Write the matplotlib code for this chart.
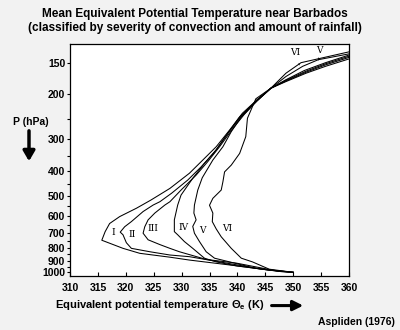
import numpy as np
import matplotlib
matplotlib.use("Agg")
import matplotlib.pyplot as plt
from matplotlib.ticker import FixedLocator, NullFormatter

plt.rcParams['font.family'] = ['Liberation Sans', 'DejaVu Sans']
plt.rcParams['mathtext.fontset'] = 'custom'
plt.rcParams['mathtext.rm'] = 'Liberation Sans:bold'
plt.rcParams['mathtext.it'] = 'Liberation Sans:bold'
plt.rcParams['mathtext.bf'] = 'Liberation Sans:bold'

# profiles: theta_e (K) vs pressure (hPa), 1000 hPa upward
theta_I = [350.0, 347.5, 340.4, 331.4, 327.9, 322.5, 319.5, 315.7, 316.3, 317.1, 318.9, 321.9,
           324.5, 327.9, 331.4, 333.8, 336.2, 338.6, 340.9, 343.5, 346.0, 348.7, 352.3, 355.8, 360.0]
p_I = [1000, 992, 946, 895, 872, 842, 805, 748, 692, 643, 604, 560,
       520, 468, 408, 362, 321, 276, 237, 210, 189, 178, 165, 155, 145]

theta_II = [350.0, 345.5, 342.7, 331.4, 327.9, 324.3, 321.0, 320.1, 319.5, 319.0, 319.8, 321.0,
            323.1, 324.9, 326.1, 328.2, 331.1, 333.5, 335.9, 338.3, 340.6, 343.3, 346.0,
            348.7, 352.3, 355.8, 360.0]
p_II = [1000, 980, 958, 868, 855, 830, 805, 765, 712, 695, 662, 632,
        577, 544, 528, 489, 434, 385, 337, 284, 245, 212, 189,
        177, 163.5, 153, 143]

theta_III = [350.0, 347.5, 339.8, 334.4, 329.6, 327.9, 326.1, 324.0, 323.1, 323.4, 324.0, 325.2,
             327.0, 327.9, 329.9, 332.6, 334.7, 336.8, 339.2, 341.2, 343.5, 346.0,
             348.7, 352.3, 355.8, 360.0]
p_III = [1000, 992, 920, 890, 830, 805, 778, 745, 702, 662, 622, 585,
         544, 528, 475, 415, 367, 321, 272, 240, 212, 189,
         176, 162, 151.5, 141.5]

theta_IV = [350.0, 345.0, 340.0, 336.2, 334.1, 333.0, 332.0, 330.5, 329.3, 328.7, 328.7, 329.3,
            329.9, 332.0, 334.1, 336.2, 338.3, 340.4, 343.5, 346.0, 348.7, 352.0, 355.8, 360.0]
p_IV = [1000, 975, 945, 910, 880, 840, 805, 757, 712, 692, 622, 544,
        497, 427, 373, 330, 284, 245, 212, 189, 175, 161, 150, 140]

theta_V = [350.0, 343.3, 338.6, 335.9, 334.4, 333.2, 332.3, 332.0, 332.6, 332.2, 332.3, 332.9,
           333.7, 335.6, 337.4, 338.9, 340.7, 343.5, 346.0, 348.7, 351.7, 354.5, 360.0]
p_V = [1000, 965, 910, 880, 830, 757, 702, 660, 622, 585, 544, 475,
       425, 362, 321, 280, 245, 212, 189, 170, 155, 146, 138.5]

theta_VI = [350.0, 345.7, 342.7, 340.7, 338.9, 337.1, 336.2, 335.5, 335.6, 335.0, 335.6, 337.1,
            337.4, 337.7, 338.9, 340.4, 341.5, 341.8, 343.3, 346.0, 348.7, 351.4, 360.0]
p_VI = [1000, 972, 910, 880, 805, 725, 675, 632, 585, 545, 512, 475,
        441, 403, 379, 341, 293, 248, 208, 189, 165, 150, 136]

profiles = [(theta_I, p_I), (theta_II, p_II), (theta_III, p_III),
            (theta_IV, p_IV), (theta_V, p_V), (theta_VI, p_VI)]

# class labels near 700 hPa
label_names = ['I', 'II', 'III', 'IV', 'V', 'VI']
label_theta = [317.7, 321.2, 324.9, 330.4, 333.8, 338.1]
label_p = [700, 707, 672, 665, 682, 674]

# labels at the top with leader lines
top_names = ['VI', 'V']
top_theta = [350.4, 354.6]
top_p = [136.5, 134.5]
top_tip_theta = [351.1, 354.5]
top_tip_p = [153, 146.5]

p_major = [150, 200, 300, 400, 500, 600, 700, 800, 900, 1000]
p_minor = [250, 350, 450, 550, 650, 750, 850, 950]
theta_ticks = [310, 315, 320, 325, 330, 335, 340, 345, 350, 355, 360]

fig = plt.figure(figsize=(4, 3.3), dpi=100)
fig.patch.set_facecolor('#f2f2f2')
ax = fig.add_axes([0.175, 0.1636, 0.6975, 0.7022])
ax.set_facecolor('white')

for th, p in profiles:
    ax.plot(th, p, color='black', lw=0.75)

for name, th, p in zip(label_names, label_theta, label_p):
    ax.text(th, p, name, family='DejaVu Serif', fontsize=6.5, ha='center', va='center')

for name, th, p, tth, tp in zip(top_names, top_theta, top_p, top_tip_theta, top_tip_p):
    ax.annotate(name, xy=(tth, tp), xytext=(th, p), family='DejaVu Serif', fontsize=6.5,
                ha='center', va='center',
                arrowprops=dict(arrowstyle='-', lw=0.6, color='black', shrinkA=3, shrinkB=0))

ax.set_yscale('log')
ax.set_ylim(1034, 127)
ax.set_xlim(310, 360)
ax.yaxis.set_major_locator(FixedLocator(p_major))
ax.yaxis.set_minor_locator(FixedLocator(p_minor))
ax.yaxis.set_major_formatter(plt.FixedFormatter([str(v) for v in p_major]))
ax.yaxis.set_minor_formatter(NullFormatter())
ax.set_xticks(theta_ticks)
ax.set_xticklabels([str(v) for v in theta_ticks])

ax.tick_params(axis='y', which='both', direction='out', length=2.5, width=0.8, pad=1,
               labelsize=7.5)
ax.tick_params(axis='x', direction='in', length=3.2, width=0.8, pad=5, labelsize=7.5)
for lab in ax.get_xticklabels() + ax.get_yticklabels():
    lab.set_fontweight('bold')
for s in ax.spines.values():
    s.set_linewidth(0.9)

fig.text(0.4875, 0.957, 'Mean Equivalent Potential Temperature near Barbados',
         ha='center', va='center', fontsize=8.5, fontweight='bold')
fig.text(0.4875, 0.914, '(classified by severity of convection and amount of rainfall)',
         ha='center', va='center', fontsize=8.5, fontweight='bold')

fig.text(0.078, 0.631, 'P (hPa)', ha='center', va='center', fontsize=7.5, fontweight='bold')
fig.patches.append(matplotlib.patches.FancyArrowPatch(
    (0.0725, 0.612), (0.0725, 0.503), transform=fig.transFigure,
    arrowstyle='-|>,head_width=0.35,head_length=0.6', mutation_scale=10,
    lw=2.5, color='black'))

fig.text(0.1375, 0.076, r'Equivalent potential temperature $\Theta_e$ (K)',
         ha='left', va='center', fontsize=8, fontweight='bold')
fig.patches.append(matplotlib.patches.FancyArrowPatch(
    (0.672, 0.074), (0.765, 0.074), transform=fig.transFigure,
    arrowstyle='-|>,head_width=0.3,head_length=0.6', mutation_scale=10,
    lw=2.2, color='black'))

fig.text(0.9875, 0.024, 'Aspliden (1976)', ha='right', va='center', fontsize=7.5,
         fontweight='bold')

fig.savefig('out.png', dpi=100, facecolor=fig.get_facecolor())
